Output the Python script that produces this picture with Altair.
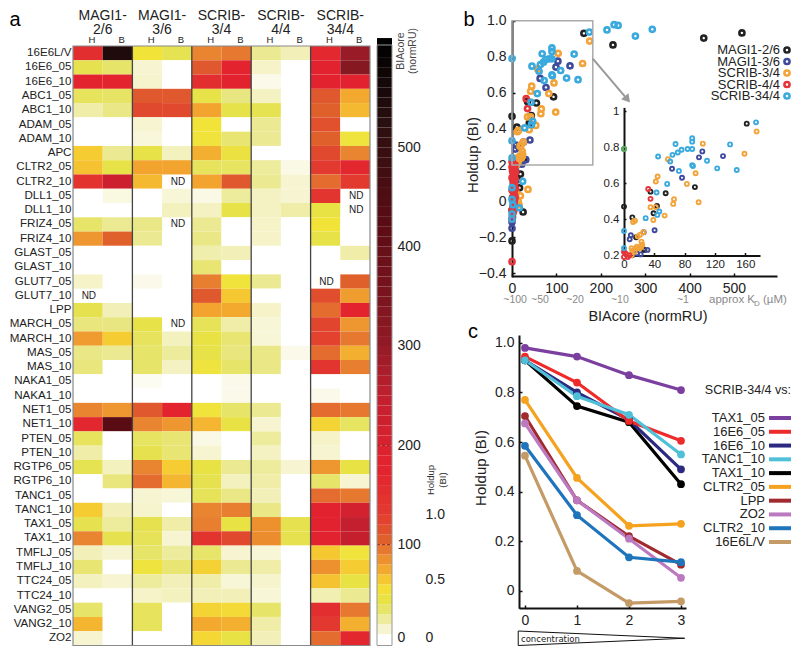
import altair as alt
import pandas as pd

FONT = "Liberation Sans"
W, H = 784, 638
OX, OY = 8, 8  # page margin

# ---------- panel a ----------
rows = ["16E6L/V","16E6_05","16E6_10","ABC1_05","ABC1_10","ADAM_05","ADAM_10","APC","CLTR2_05","CLTR2_10",
        "DLL1_05","DLL1_10","FRIZ4_05","FRIZ4_10","GLAST_05","GLAST_10","GLUT7_05","GLUT7_10","LPP","MARCH_05",
        "MARCH_10","MAS_05","MAS_10","NAKA1_05","NAKA1_10","NET1_05","NET1_10","PTEN_05","PTEN_10","RGTP6_05",
        "RGTP6_10","TANC1_05","TANC1_10","TAX1_05","TAX1_10","TMFLJ_05","TMFLJ_10","TTC24_05","TTC24_10",
        "VANG2_05","VANG2_10","ZO2"]
groups = ["MAGI1-\n2/6", "MAGI1-\n3/6", "SCRIB-\n3/4", "SCRIB-\n4/4", "SCRIB-\n34/4"]
short = ["M26", "M36", "S34", "S44", "S344"]

M26_H = [150,36,170,33,18,0,0,58,62,140,0,0,30,78,0,0,12,None,36,26,76,24,26,0,0,85,165,33,18,35,0,0,58,36,85,15,28,14,0,30,66,10]
M26_B = [540,30,170,31,24,0,0,22,38,220,7,0,22,100,0,0,0,0,15,25,58,22,0,0,0,78,420,0,0,14,26,0,15,20,36,10,0,10,0,0,0,0]
M36_H = [48,10,11,105,115,10,8,38,72,65,0,0,24,22,0,0,5,0,0,38,33,30,30,3,0,105,85,32,36,85,95,10,11,36,34,30,44,20,12,33,33,0]
M36_B = [35,0,0,105,115,0,0,14,72,None,9,14,None,0,0,0,0,0,0,None,14,20,13,0,0,170,78,28,28,58,66,9,0,18,10,20,28,15,14,0,0,0]
S34_H = [85,105,150,38,72,48,46,68,33,72,6,13,22,24,17,28,88,105,72,34,40,38,44,0,0,46,66,6,10,40,36,34,85,88,140,30,56,18,15,55,70,54]
S34_B = [90,170,175,25,37,0,28,42,32,105,20,38,0,0,15,0,46,60,70,18,28,26,30,5,5,30,40,0,0,22,14,24,88,40,115,10,22,9,15,52,68,40]
S44_H = [22,12,5,13,35,22,22,0,20,22,13,13,12,12,0,0,22,0,12,9,9,24,24,0,0,22,10,20,13,20,18,15,24,80,82,9,18,11,9,30,18,15]
S44_B = [15,0,0,0,0,0,0,0,6,10,10,18,0,0,0,0,0,0,0,0,0,5,0,0,0,0,0,0,0,10,0,0,0,36,36,0,0,0,0,0,0,0]
S344_H = [160,175,175,105,100,110,100,115,125,95,135,40,48,38,0,0,None,112,95,118,120,95,135,0,5,95,55,12,10,78,30,95,175,175,175,60,80,62,16,150,130,95]
S344_B = [290,320,175,70,65,0,45,85,165,125,None,None,0,0,18,0,100,75,170,78,90,68,88,0,0,90,32,0,0,40,10,90,205,240,235,46,58,40,22,90,68,165]
columns = [M26_H, M26_B, M36_H, M36_B, S34_H, S34_B, S44_H, S44_B, S344_H, S344_B]
col_names = [f"{s} {e}" for s in short for e in "HB"]

heat_stops = [0, 5, 15, 25, 37, 48, 60, 70, 87, 100, 125, 175, 245, 300, 420, 520, 600]
heat_colors = ["#ffffff","#fbfaea","#f2f0b8","#e8e680","#e6e24a","#f2e338","#f5c832","#f3a92e","#e88030","#e0602c",
               "#e23a2f","#e3222f","#c01f2e","#8f1a25","#5a0c14","#2a0f10","#000000"]

heat_long = pd.DataFrame(
    [{"row": r, "col": c, "v": vals[i], "nd": vals[i] is None}
     for c, vals in zip(col_names, columns) for i, r in enumerate(rows)]
)

cbar_levels = list(range(0, 610, 10))

# ---------- panel b ----------
black_x = [518,432,227.5,162,93.6,55,35,43.5,39,11,0,16,27,25,0,19,17,26,8,12,6,3]
black_y = [.932,.904,.866,.93,.578,.544,.553,.474,.433,.41,.47,.30,.23,-.06,-.22,.15,.074,.232,.05,.12,0,.18]
navy_x = [103.4,99,130.7,63.4,76.6,40.4,9,7.5,26,11,17,22,4,8,3,0,0,2,5,31,0,1]
navy_y = [.776,.743,.75,.68,.63,.339,.311,.289,.328,.2,.21,.205,.18,.17,.1,-.05,-.115,.02,.13,.23,-.15,-.09]
orange_x = [175,159,104,94.5,58,44.4,42,83,98.5,66,65,53.6,38.7,35,42,14.5,12,25.5,21,18,23,10,11,17,21,23,14,24,18,36,19,14,9,10,16]
orange_y = [.887,.763,.819,.655,.733,.637,.609,.596,.494,.511,.485,.42,.396,.467,.467,.392,.385,.328,.313,.305,.276,.239,.226,.248,.239,.248,.22,.26,.24,.065,.03,0,.05,.2,-.02]
red_x = [32,35,0,2,5,1,4,6,0,3,5,2,0,4,6,1,3,0,5,2,0,3,1,0,2,0,7,8,7,8,6,7,4]
red_y = [.568,.513,-.335,.21,.19,.17,.15,.13,.19,.11,.09,.08,.06,.05,.03,.02,0,.13,-.01,-.03,-.05,-.06,-.08,.22,.16,-.1,.2,.16,.12,.07,.1,.02,-.05]
blue_x = [174.3,140,90,90,68,45,61,64,71,76,84,90,90,72.5,109.6,123,148.8,57,43,28.6,44,46.6,0,0,0,214,230,239,278,316,24,16.5,0,0,2,0,0,91]
blue_y = [.937,.815,.849,.83,.817,.748,.72,.757,.77,.785,.789,.789,.70,.668,.724,.682,.673,.596,.548,.406,.424,.443,.335,.24,.79,.949,.978,.974,.915,.952,.11,-.037,.075,.01,-.02,-.07,-.1,.695]
series_b = ["MAGI1-2/6", "MAGI1-3/6", "SCRIB-3/4", "SCRIB-4/4", "SCRIB-34/4"]
colors_b = ["#222222", "#3f4a9c", "#f2a33a", "#e5343a", "#3aa9de"]
xs_b = [black_x, navy_x, orange_x, red_x, blue_x]
ys_b = [black_y, navy_y, orange_y, red_y, blue_y]
scatter = pd.DataFrame(
    [{"series": s, "idx": k, "x": x, "y": y} for k, (s, X, Y) in enumerate(zip(series_b, xs_b, ys_b)) for x, y in zip(X, Y)]
)
kd_pos = [7, 63, 142, 243, 385]
kd_labels = ["~100", "~50", "~20", "~10", "~1"]

# ---------- panel c ----------
names_c = ["TAX1_05","16E6_05","16E6_10","TANC1_10","TAX1_10","CLTR2_05","LPP","ZO2","CLTR2_10","16E6L/V"]
colors_c = ["#7b3fa0","#ee2b2b","#2b2a80","#4fc0d8","#000000","#f5a21f","#a02a2e","#bb7ac0","#1f75bb","#c49a66"]
conc = [0, 1, 2, 3]
holdup_c = {
    "TAX1_10": [.93,.745,.68,.43],
    "16E6_10": [.93,.80,.69,.49],
    "16E6_05": [.945,.84,.685,.605],
    "TANC1_10": [.93,.785,.71,.55],
    "TAX1_05": [.98,.945,.87,.81],
    "CLTR2_05": [.77,.455,.262,.27],
    "LPP": [.705,.365,.22,.105],
    "ZO2": [.675,.365,.21,.052],
    "CLTR2_10": [.585,.305,.135,.115],
    "16E6L/V": [.545,.08,-.05,-.043],
}
lines = pd.DataFrame([{"name": n, "conc": c, "v": v} for n, vals in holdup_c.items() for c, v in zip(conc, vals)])


# ---------- helpers ----------
def px(v):
    return v - OX

def py(v):
    return v - OY

def linear(domain, prange):
    return alt.Scale(domain=domain, range=prange, nice=False, zero=False)

def note(text, x, y, size=12, color="#111111", angle=0, align="center", font=FONT, line=None):
    kw = dict(lineBreak="\n", lineHeight=line) if line else {}
    return alt.Chart(pd.DataFrame({"t": [text]})).mark_text(
        fontSize=size, color=color, angle=angle, align=align, baseline="middle", font=font, **kw
    ).encode(x=alt.value(px(x)), y=alt.value(py(y)), text="t:N")

def bottom_axis(y_page, values, fmt=None, size=14, tick=3, pad=4):
    return alt.Axis(orient="top", offset=-py(y_page), values=values, title=None, grid=False,
                    domainColor="#111111", domainWidth=2, tickColor="#111111", tickWidth=1.5, tickSize=tick,
                    labelBaseline="top", labelPadding=-(tick + pad), labelFontSize=size, labelColor="#222222",
                    labelAngle=0, labelOverlap=False, labelFlush=False, **({"labelExpr": fmt} if fmt else {}))

def left_axis(x_page, values, fmt=None, size=14, tick=3, pad=6):
    return alt.Axis(orient="right", offset=px(x_page) - W, values=values, title=None, grid=False,
                    domainColor="#111111", domainWidth=2, tickColor="#111111", tickWidth=1.5, tickSize=tick,
                    labelAlign="right", labelPadding=-(tick + pad), labelFontSize=size, labelColor="#222222",
                    labelOverlap=False, labelFlush=False, **({"labelExpr": fmt} if fmt else {}))

zero_up = {"condition": {"test": "datum.value == 0", "value": "bottom"}, "value": "middle"}
layers = []

# ---------- panel a: heat map ----------
heat_x = alt.Scale(domain=col_names, range=[px(73), px(370)], paddingInner=0, paddingOuter=0)
heat_y = alt.Scale(domain=rows, range=[py(46), py(645.5)], paddingInner=0, paddingOuter=0)
group_x = alt.Scale(domain=groups, range=[px(73), px(370)], paddingInner=0, paddingOuter=0)
heat_color = alt.Scale(domain=heat_stops, range=heat_colors, type="linear", clamp=True, nice=False, zero=False, interpolate="rgb")

layers.append(
    alt.Chart(heat_long[~heat_long.nd]).mark_rect(strokeWidth=0).encode(
        x=alt.X("col:N", scale=heat_x, sort=None, axis=alt.Axis(
            orient="top", offset=-py(44.5), title=None, domain=False, ticks=False, labelPadding=0, labelOffset=4,
            labelExpr="slice(datum.label, -1)", labelFontSize=9.5, labelAngle=0, labelOverlap=False, labelColor="#222222")),
        y=alt.Y("row:N", scale=heat_y, sort=None, axis=alt.Axis(
            orient="left", offset=-px(73), title=None, domain=False, ticks=False, labelPadding=2,
            labelFontSize=11.6, labelOverlap=False, labelColor="#222222")),
        color=alt.Color("v:Q", scale=heat_color, legend=None),
    )
)
layers.append(
    alt.Chart(heat_long[heat_long.nd]).mark_text(fontSize=10, color="#222222", dx=1).encode(
        x=alt.X("col:N", scale=heat_x, sort=None, axis=None),
        y=alt.Y("row:N", scale=heat_y, sort=None, axis=None),
        text=alt.value("ND"),
    )
)
layers.append(
    alt.Chart(pd.DataFrame({"g": groups})).mark_text(fontSize=14, color="#222222", lineBreak="\n", lineHeight=13.5).encode(
        x=alt.X("g:N", scale=group_x, sort=None, axis=None),
        y=alt.value(py(16)),
        text="g:N",
    )
)
layers.append(
    alt.Chart(pd.DataFrame({"g": groups[1:]})).mark_rule(color="#444444", strokeWidth=1.3).encode(
        x=alt.X("g:N", scale=group_x, sort=None, axis=None, bandPosition=0),
        y=alt.value(py(46)), y2=alt.value(py(645.5)),
    )
)
layers.append(
    alt.Chart(pd.DataFrame({"a": [0]})).mark_rect(fill=None, stroke="#8a8a8a", strokeWidth=1.2).encode(
        x=alt.value(px(73)), x2=alt.value(px(370)), y=alt.value(py(46)), y2=alt.value(py(645.5)),
    )
)

# ---------- colour bar ----------
cbar = pd.DataFrame({"v": cbar_levels, "v2": [v + 10 for v in cbar_levels]})
cb_y = linear([-1.5, 603], [py(645.5), py(45)])
layers.append(
    alt.Chart(cbar).mark_rect(strokeWidth=0).encode(
        x=alt.value(px(377)), x2=alt.value(px(392)),
        y=alt.Y("v:Q", scale=cb_y, axis=alt.Axis(
            orient="right", offset=px(392) - W, values=[0, 100, 200, 300, 400, 500], title=None, grid=False,
            domain=False, ticks=False, labelPadding=5, labelFontSize=14, labelColor="#222222", labelOverlap=False, labelFlush=False,
            labelBaseline=zero_up)),
        y2="v2:Q",
        color=alt.Color("v:Q", scale=heat_color, legend=None),
    )
)
layers.append(
    alt.Chart(pd.DataFrame({"v": [100, 200]})).mark_rule(color="#8f2a20", strokeWidth=1, strokeDash=[3, 2]).encode(
        x=alt.value(px(377)), x2=alt.value(px(392)),
        y=alt.Y("v:Q", scale=cb_y, axis=None),
    )
)
layers.append(
    alt.Chart(pd.DataFrame({"a": [0]})).mark_rect(fill=None, stroke="#999999", strokeWidth=1).encode(
        x=alt.value(px(377)), x2=alt.value(px(392)), y=alt.value(py(45)), y2=alt.value(py(645.5)),
    )
)
layers.append(
    alt.Chart(pd.DataFrame({"v": [0, 0.5, 1.0]})).mark_point(opacity=0).encode(
        x=alt.value(px(428)),
        y=alt.Y("v:Q", scale=linear([0, 4.65], [py(644), py(40)]), axis=alt.Axis(
            orient="right", offset=px(425) - W, values=[0, 0.5, 1.0], title=None, grid=False, domain=False, ticks=False,
            labelPadding=0, labelFontSize=14, labelColor="#222222", labelOverlap=False, labelFlush=False,
            labelBaseline=zero_up,
            labelExpr="datum.value == 0 ? '  0' : format(datum.value, '.1f')")),
    )
)

# ---------- panel b: main scatter ----------
bx = linear([0, 597], [px(512), px(777)])
by = linear([-0.42, 1.0], [py(277), py(20.7)])
ix = linear([0, 179.5], [px(624), px(760)])
iy = linear([0.2, 1.02], [py(255.3), py(107.4)])
series_color = alt.Scale(domain=series_b, range=colors_b)

layers.append(
    alt.Chart(scatter).mark_point(filled=False, size=26, strokeWidth=2.6, opacity=1).encode(
        x=alt.X("x:Q", scale=bx, axis=bottom_axis(276, [0, 100, 200, 300, 400, 500], pad=5)),
        y=alt.Y("y:Q", scale=by, axis=left_axis(512, [-0.4, -0.2, 0, 0.2, 0.4, 0.6, 0.8, 1.0],
            fmt="datum.value == 0 ? '0' : replace(format(datum.value, '.1f'), '-', '\u2212')")),
        color=alt.Color("series:N", scale=series_color, legend=None),
        order="idx:Q",
    )
)
# zoom box and arrow
layers.append(
    alt.Chart(pd.DataFrame({"x": [0], "x2": [182], "y": [0.2], "y2": [1.0]})).mark_rect(
        fill=None, stroke="#aaaaaa", strokeWidth=1.5).encode(
        x=alt.X("x:Q", scale=bx, axis=None), x2="x2:Q",
        y=alt.Y("y:Q", scale=by, axis=None), y2="y2:Q",
    )
)
layers.append(
    alt.Chart(pd.DataFrame({"x": [182, 258], "y": [0.79, 0.57]})).mark_line(color="#999999", strokeWidth=2).encode(
        x=alt.X("x:Q", scale=bx, axis=None), y=alt.Y("y:Q", scale=by, axis=None),
    )
)
layers.append(
    alt.Chart(pd.DataFrame({"x": [258], "y": [0.57]})).mark_point(
        shape="triangle", angle=141, filled=True, size=90, color="#999999", opacity=1).encode(
        x=alt.X("x:Q", scale=bx, axis=None), y=alt.Y("y:Q", scale=by, axis=None),
    )
)
# inset
inset = scatter[(scatter.x <= 180) & (scatter.y >= 0.19)]
layers.append(
    alt.Chart(inset).mark_point(filled=False, size=16, strokeWidth=1.9, opacity=1).encode(
        x=alt.X("x:Q", scale=ix, axis=bottom_axis(255.5, [0, 40, 80, 120, 160], size=11.5, tick=3, pad=3)),
        y=alt.Y("y:Q", scale=iy, axis=left_axis(624, [0.2, 0.4, 0.6, 0.8, 1.0], size=11.5, tick=2, pad=5,
            fmt="datum.value == 1 ? '1' : format(datum.value, '.1f')")),
        color=alt.Color("series:N", scale=series_color, legend=None),
        order="idx:Q",
    )
)
layers.append(
    alt.Chart(pd.DataFrame({"x": [0], "y": [0.79]})).mark_point(filled=False, size=16, strokeWidth=1.9, color="#5aa84a", opacity=1).encode(
        x=alt.X("x:Q", scale=ix, axis=None), y=alt.Y("y:Q", scale=iy, axis=None),
    )
)
# K_D gray labels
layers.append(
    alt.Chart(pd.DataFrame({"x": kd_pos, "t": kd_labels})).mark_text(fontSize=10.5, color="#8a8a8a").encode(
        x=alt.X("x:Q", scale=bx, axis=None), y=alt.value(py(300)), text="t:N",
    )
)
# legend b
legend_b = pd.DataFrame({"s": series_b})
legend_b_y = alt.Scale(type="point", domain=series_b, range=[py(50), py(96)], padding=0)
layers.append(
    alt.Chart(legend_b).mark_text(fontSize=13, color="#222222", align="right").encode(
        x=alt.value(px(780)),
        y=alt.Y("s:N", scale=legend_b_y, sort=None, axis=None),
        text="s:N",
    )
)
layers.append(
    alt.Chart(legend_b).mark_point(filled=False, size=26, strokeWidth=2.6, opacity=1).encode(
        x=alt.value(px(787)),
        y=alt.Y("s:N", scale=legend_b_y, sort=None, axis=None),
        color=alt.Color("s:N", scale=series_color, legend=None),
    )
)

# ---------- panel c ----------
cx = linear([-0.115, 3.096], [px(519), px(686)])
cy = linear([-0.071, 1.032], [py(608.3), py(335)])
c_color = alt.Scale(domain=names_c, range=colors_c)
layers.append(
    alt.Chart(lines).mark_line(strokeWidth=3.2, point=alt.OverlayMarkDef(size=60, filled=True, opacity=1)).encode(
        x=alt.X("conc:Q", scale=cx, axis=bottom_axis(608, conc, size=14, pad=5)),
        y=alt.Y("v:Q", scale=cy, axis=left_axis(519, [0, 0.2, 0.4, 0.6, 0.8, 1.0], pad=5,
            fmt="datum.value == 0 ? '0' : format(datum.value, '.1f')")),
        color=alt.Color("name:N", scale=c_color, legend=None, sort=None),
    )
)
legend_y = alt.Scale(type="point", domain=names_c, range=[py(418), py(542)], padding=0)
legend_c = pd.DataFrame({"n": names_c})
layers.append(
    alt.Chart(legend_c).mark_text(fontSize=13, color="#222222", align="right").encode(
        x=alt.value(px(765)),
        y=alt.Y("n:N", scale=legend_y, sort=None, axis=None),
        text="n:N",
    )
)
layers.append(
    alt.Chart(legend_c).mark_rule(strokeWidth=4).encode(
        x=alt.value(px(769)), x2=alt.value(px(791)),
        y=alt.Y("n:N", scale=legend_y, sort=None, axis=None),
        color=alt.Color("n:N", scale=c_color, legend=None),
    )
)
# concentration wedge
wedge = pd.DataFrame({"p": [0, 1, 2, 3], "x": [-0.13, 3.07, -0.13, -0.13], "h": [1, 0, -1, 1]})
layers.append(
    alt.Chart(wedge).mark_line(color="#111111", strokeWidth=1).encode(
        x=alt.X("x:Q", scale=cx, axis=None),
        y=alt.Y("h:Q", scale=linear([-1, 1], [py(645.5), py(631)]), axis=None),
        order="p:Q",
    )
)

# ---------- text ----------
layers += [
    note("a", 15, 20, size=20, color="#000000"),
    note("b", 469, 20, size=20, color="#000000"),
    note("c", 473, 332, size=20, color="#000000"),
    note("BIAcore\n(normRU)", 401, 51, size=10.5, angle=270, line=12, color="#444444"),
    note("Holdup\n(BI)", 431, 480, size=9.5, angle=270, line=12, color="#333333"),
    note("Holdup (BI)", 473, 155, size=15, angle=270, color="#222222"),
    note("BIAcore (normRU)", 648, 317, size=14.5, color="#222222"),
    note("approx K", 709, 300, size=11.5, color="#8a8a8a", align="left"),
    note("D", 754, 304, size=8, color="#8a8a8a", align="left"),
    note("(\u00b5M)", 763, 300, size=11.5, color="#8a8a8a", align="left"),
    note("Holdup (BI)", 481, 468, size=15, angle=270, color="#222222"),
    note("SCRIB-34/4 vs:", 791, 390, size=12.5, color="#222222", align="right"),
    note("concentration", 521, 638.5, size=8.5, color="#222222", align="left", font="DejaVu Sans"),
]

chart = alt.layer(*layers).resolve_scale(
    x="independent", y="independent", color="independent"
).resolve_axis(x="independent", y="independent").properties(
    width=W, height=H, padding=0, background="white", autosize=alt.AutoSizeParams(type="none"),
).configure_view(stroke=None).configure_axis(
    labelFont=FONT, titleFont=FONT, grid=False
).configure_text(font=FONT)

chart.save("out.html", embed_options={"renderer": "svg", "actions": False})
